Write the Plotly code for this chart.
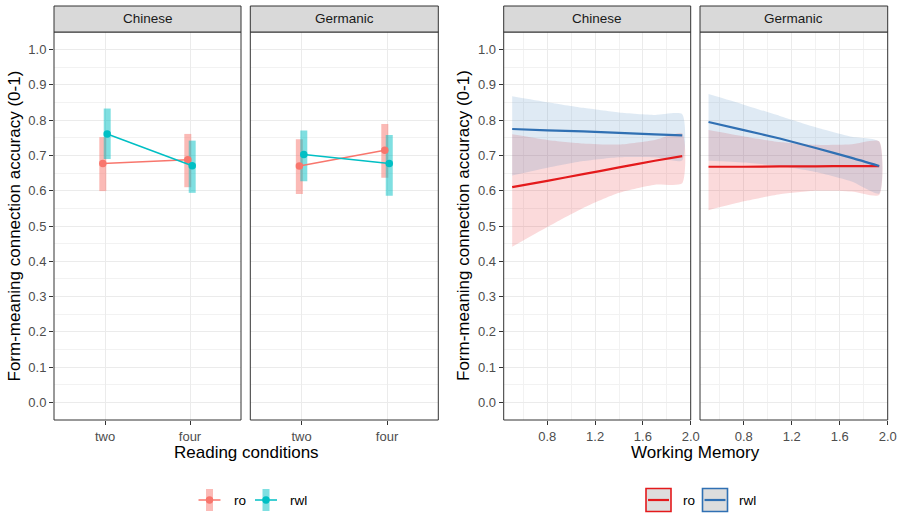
import plotly.graph_objects as go

W, H = 903, 513
FONT = "Liberation Sans, Arial, Helvetica, sans-serif"

# ---------------- data ----------------
conditions = ["two", "four"]
groups = ["ro", "rwl"]
panels = ["Chinese", "Germanic"]

# Left: estimated accuracy by reading condition (point, lower CI, upper CI)
chi_ro_est = [0.677, 0.688]
chi_ro_lo = [0.599, 0.610]
chi_ro_hi = [0.752, 0.761]
chi_rwl_est = [0.761, 0.671]
chi_rwl_lo = [0.690, 0.594]
chi_rwl_hi = [0.833, 0.742]
ger_ro_est = [0.670, 0.715]
ger_ro_lo = [0.591, 0.637]
ger_ro_hi = [0.746, 0.789]
ger_rwl_est = [0.703, 0.677]
ger_rwl_lo = [0.627, 0.586]
ger_rwl_hi = [0.771, 0.758]

# Right: fitted accuracy across working memory
wm = [0.506, 0.8, 1.1, 1.4, 1.7, 1.929]
chi_ro_fit = [0.610, 0.628, 0.647, 0.666, 0.685, 0.698]
chi_ro_lwr = [0.441, 0.497, 0.551, 0.594, 0.617, 0.621]
chi_ro_upr = [0.760, 0.744, 0.734, 0.731, 0.744, 0.762]
chi_rwl_fit = [0.775, 0.771, 0.768, 0.764, 0.760, 0.757]
chi_rwl_lwr = [0.643, 0.665, 0.684, 0.695, 0.695, 0.686]
chi_rwl_upr = [0.868, 0.851, 0.835, 0.822, 0.815, 0.817]
ger_ro_fit = [0.668, 0.668, 0.669, 0.669, 0.670, 0.670]
ger_ro_lwr = [0.545, 0.570, 0.590, 0.600, 0.598, 0.588]
ger_ro_upr = [0.772, 0.754, 0.738, 0.730, 0.732, 0.740]
ger_rwl_fit = [0.795, 0.772, 0.748, 0.721, 0.693, 0.670]
ger_rwl_lwr = [0.685, 0.680, 0.670, 0.653, 0.626, 0.592]
ger_rwl_upr = [0.874, 0.844, 0.812, 0.780, 0.753, 0.739]

y_ticks = [0.0, 0.1, 0.2, 0.3, 0.4, 0.5, 0.6, 0.7, 0.8, 0.9, 1.0]
wm_ticks = [0.8, 1.2, 1.6, 2.0]

# ---------------- styling ----------------
LEFT_COL = {"ro": "#F8766D", "rwl": "#00BFC4"}
LEFT_BAR = {"ro": "rgba(248,118,109,0.5)", "rwl": "rgba(0,191,196,0.5)"}
RIGHT_COL = {"ro": "#E41A1C", "rwl": "#3070B3"}
RIGHT_FILL = {"ro": "rgba(228,26,28,0.16)", "rwl": "rgba(55,126,184,0.16)"}
DODGE = {"ro": -0.026, "rwl": 0.026}

fig = go.Figure()

left_data = {
    ("Chinese", "ro"): (chi_ro_est, chi_ro_lo, chi_ro_hi),
    ("Chinese", "rwl"): (chi_rwl_est, chi_rwl_lo, chi_rwl_hi),
    ("Germanic", "ro"): (ger_ro_est, ger_ro_lo, ger_ro_hi),
    ("Germanic", "rwl"): (ger_rwl_est, ger_rwl_lo, ger_rwl_hi),
}
right_data = {
    ("Chinese", "ro"): (chi_ro_fit, chi_ro_lwr, chi_ro_upr),
    ("Chinese", "rwl"): (chi_rwl_fit, chi_rwl_lwr, chi_rwl_upr),
    ("Germanic", "ro"): (ger_ro_fit, ger_ro_lwr, ger_ro_upr),
    ("Germanic", "rwl"): (ger_rwl_fit, ger_rwl_lwr, ger_rwl_upr),
}

axis_ids = {("L", "Chinese"): ("x", "y"), ("L", "Germanic"): ("x2", "y2"),
            ("R", "Chinese"): ("x3", "y3"), ("R", "Germanic"): ("x4", "y4")}

# left: ranges as translucent bars
for p in panels:
    xa, ya = axis_ids[("L", p)]
    for g in groups:
        est, lo, hi = left_data[(p, g)]
        xs = [i + 1 + DODGE[g] for i in range(len(conditions))]
        fig.add_trace(go.Bar(x=xs, y=[h - l for h, l in zip(hi, lo)], base=lo,
                             width=0.082, marker=dict(color=LEFT_BAR[g], line=dict(width=0)),
                             xaxis=xa, yaxis=ya, showlegend=False, hoverinfo="skip"))
for p in panels:
    xa, ya = axis_ids[("L", p)]
    for g in groups:
        est, lo, hi = left_data[(p, g)]
        xs = [i + 1 + DODGE[g] for i in range(len(conditions))]
        fig.add_trace(go.Scatter(x=xs, y=est, mode="lines+markers",
                                 line=dict(color=LEFT_COL[g], width=1.5),
                                 marker=dict(color=LEFT_COL[g], size=7.5),
                                 xaxis=xa, yaxis=ya, showlegend=False))

# right: ribbons then lines
for p in panels:
    xa, ya = axis_ids[("R", p)]
    for g in groups:
        fit, lwr, upr = right_data[(p, g)]
        fig.add_trace(go.Scatter(x=wm + wm[::-1], y=upr + lwr[::-1], mode="lines",
                                 fill="toself", fillcolor=RIGHT_FILL[g],
                                 line=dict(width=0, shape="spline", smoothing=0.6),
                                 xaxis=xa, yaxis=ya, showlegend=False, hoverinfo="skip"))
for p in panels:
    xa, ya = axis_ids[("R", p)]
    for g in groups:
        fit, lwr, upr = right_data[(p, g)]
        fig.add_trace(go.Scatter(x=wm, y=fit, mode="lines",
                                 line=dict(color=RIGHT_COL[g], width=2.2, shape="spline", smoothing=0.6),
                                 xaxis=xa, yaxis=ya, showlegend=False))

# ---------------- axes ----------------
y_dom = [1 - 420 / H, 1 - 32 / H]
x_doms = {"x": [54 / W, 241 / W], "x2": [250.3 / W, 438.3 / W],
          "x3": [503.7 / W, 690.7 / W], "x4": [700 / W, 887.7 / W]}

tickfont = dict(family=FONT, size=13, color="#4D4D4D")
grid = dict(showgrid=True, gridcolor="#EBEBEB", gridwidth=1.2, zeroline=False, showline=False,
            automargin=False)

layout = dict(width=W, height=H, autosize=False, margin=dict(l=0, r=0, t=0, b=0, pad=0),
              paper_bgcolor="white", plot_bgcolor="white", barmode="overlay",
              showlegend=False, font=dict(family=FONT))

for i, (xa, ya) in enumerate(axis_ids.values()):
    xkey = "xaxis" if xa == "x" else "xaxis" + xa[1:]
    ykey = "yaxis" if ya == "y" else "yaxis" + ya[1:]
    is_left = xa in ("x", "x2")
    xd = dict(domain=x_doms[xa], anchor=ya, ticks="outside", ticklen=4, tickwidth=1,
              tickcolor="#333333", tickfont=tickfont, fixedrange=True, **grid)
    if is_left:
        xd.update(range=[0.4, 2.6], tickmode="array", tickvals=[1, 2], ticktext=conditions)
    else:
        xd.update(range=[0.435, 2.0], tickmode="array", tickvals=wm_ticks,
                  ticktext=[f"{v:.1f}" for v in wm_ticks],
                  minor=dict(tickmode="array", tickvals=[0.6, 1.0, 1.4, 1.8], showgrid=True,
                             gridcolor="#F2F2F2", gridwidth=0.6, ticks=""))
    yd = dict(domain=y_dom, anchor=xa, range=[-0.05, 1.05], tickmode="array", tickvals=y_ticks,
              ticktext=[f"{v:.1f}" for v in y_ticks], fixedrange=True,
              minor=dict(tickmode="array", tickvals=[0.05 + 0.1 * k for k in range(10)],
                         showgrid=True, gridcolor="#F2F2F2", gridwidth=0.6, ticks=""),
              **grid)
    if xa in ("x", "x3"):
        yd.update(ticks="outside", ticklen=4, tickwidth=1, tickcolor="#333333", tickfont=tickfont)
    else:
        yd.update(showticklabels=False, ticks="")
    layout[xkey] = xd
    layout[ykey] = yd

fig.update_layout(**layout)

# ---------------- panel borders and strips ----------------
shapes = []
annotations = []
for (side, p), (xa, ya) in axis_ids.items():
    xr = xa + " domain"
    yr = ya + " domain"
    shapes.append(dict(type="rect", xref=xr, yref=yr, x0=0, x1=1, y0=0, y1=1,
                       line=dict(color="#333333", width=1), layer="above"))
    shapes.append(dict(type="rect", xref=xr, yref="paper", x0=0, x1=1,
                       y0=1 - 32 / H, y1=1 - 6 / H, fillcolor="#D9D9D9",
                       line=dict(color="#333333", width=1), layer="above"))
    annotations.append(dict(text=p, xref=xr, yref="paper", x=0.5, y=1 - 19 / H,
                            showarrow=False, xanchor="center", yanchor="middle",
                            font=dict(family=FONT, size=13.5, color="#1A1A1A")))

ytitle = "Form-meaning connection accuracy (0-1)"
for xc in (13.5, 463):
    annotations.append(dict(text=ytitle, xref="paper", yref="paper", x=xc / W, y=1 - 226 / H,
                            textangle=-90, showarrow=False, xanchor="center", yanchor="middle",
                            font=dict(family=FONT, size=17, color="black")))
annotations.append(dict(text="Reading conditions", xref="paper", yref="paper", x=246.2 / W,
                        y=1 - 452 / H, showarrow=False, xanchor="center", yanchor="middle",
                        font=dict(family=FONT, size=17, color="black")))
annotations.append(dict(text="Working Memory", xref="paper", yref="paper", x=695.7 / W,
                        y=1 - 452 / H, showarrow=False, xanchor="center", yanchor="middle",
                        font=dict(family=FONT, size=17, color="black")))

# ---------------- legends (drawn keys) ----------------
def px(x):
    return x / W


def py(y):
    return 1 - y / H


leg_y = 500
left_keys = {"ro": 209.5, "rwl": 266}
left_text = {"ro": 231.5, "rwl": 288}
for g in groups:
    cx = left_keys[g]
    shapes.append(dict(type="rect", xref="paper", yref="paper", x0=px(cx - 3.5), x1=px(cx + 3.5),
                       y0=py(leg_y + 11), y1=py(leg_y - 11), fillcolor=LEFT_BAR[g], line=dict(width=0)))
    shapes.append(dict(type="line", xref="paper", yref="paper", x0=px(cx - 11), x1=px(cx + 11),
                       y0=py(leg_y), y1=py(leg_y), line=dict(color=LEFT_COL[g], width=1.5)))
    shapes.append(dict(type="circle", xref="paper", yref="paper", x0=px(cx - 3.7), x1=px(cx + 3.7),
                       y0=py(leg_y + 3.7), y1=py(leg_y - 3.7), fillcolor=LEFT_COL[g],
                       line=dict(width=0)))
    annotations.append(dict(text=g, xref="paper", yref="paper", x=px(left_text[g]), y=py(leg_y),
                            showarrow=False, xanchor="left", yanchor="middle",
                            font=dict(family=FONT, size=13.5, color="black")))

right_keys = {"ro": 646, "rwl": 702.5}
right_text = {"ro": 680.5, "rwl": 737}
for g in groups:
    x0 = right_keys[g]
    shapes.append(dict(type="rect", xref="paper", yref="paper", x0=px(x0), x1=px(x0 + 25),
                       y0=py(leg_y + 11.5), y1=py(leg_y - 11.5), fillcolor="#DDDDDD",
                       line=dict(color=RIGHT_COL[g], width=1.6)))
    shapes.append(dict(type="line", xref="paper", yref="paper", x0=px(x0 + 2), x1=px(x0 + 23),
                       y0=py(leg_y), y1=py(leg_y), line=dict(color=RIGHT_COL[g], width=2.2)))
    annotations.append(dict(text=g, xref="paper", yref="paper", x=px(right_text[g]), y=py(leg_y),
                            showarrow=False, xanchor="left", yanchor="middle",
                            font=dict(family=FONT, size=13.5, color="black")))

fig.update_layout(shapes=shapes, annotations=annotations)
fig.write_html("out.html",
               config={"displayModeBar": False, "responsive": False},
               post_script="document.documentElement.style.overflow='hidden';"
                           "document.body.style.margin='0';document.body.style.padding='0';"
                           "document.body.style.overflow='hidden';")
